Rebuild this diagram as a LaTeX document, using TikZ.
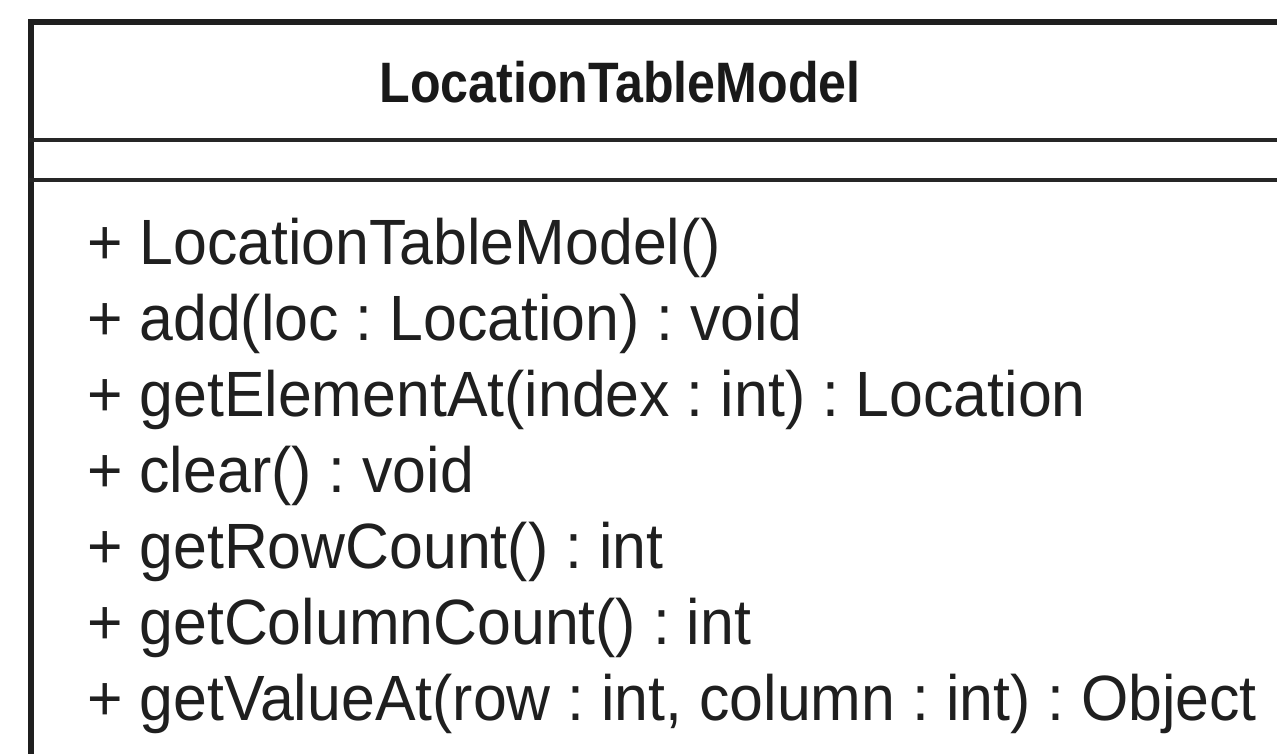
\documentclass[tikz,border=0pt]{standalone}
\usepackage{fontspec}
\setmainfont{Liberation Sans}
\frenchspacing
\begin{document}
\begin{tikzpicture}[x=1pt,y=-1pt,
  frame/.style={draw=black!88,line width=6pt},
  divider/.style={draw=black!85,line width=4pt},
  classname/.style={anchor=base,inner sep=0pt,text=black!90,
    font=\fontsize{57}{66}\selectfont\bfseries},
  member/.style={anchor=base west,inner sep=0pt,text=black!88,
    font=\fontsize{64}{76}\selectfont}]
  \useasboundingbox (0,0) rectangle (1277,754);
  % class frame: left edge and top edge (box continues past the page)
  \draw[frame] (31,754) -- (31,22) -- (1277,22);
  % compartment dividers
  \draw[divider] (29,140) -- (1277,140);
  \draw[divider] (29,180) -- (1277,180);
  % class name
  \node[classname] (title) at (620,103) {\scalebox{0.88}[1]{LocationTableModel}};
  % operations
  \node[member] (m1) at (87,264) {\scalebox{0.95}[1]{+ LocationTableModel()}};
  \node[member] (m2) at (87,340) {\scalebox{0.95}[1]{+ add(loc : Location) : void}};
  \node[member] (m3) at (87,416) {\scalebox{0.95}[1]{+ getElementAt(index : int) : Location}};
  \node[member] (m4) at (87,492) {\scalebox{0.95}[1]{+ clear() : void}};
  \node[member] (m5) at (87,568) {\scalebox{0.95}[1]{+ getRowCount() : int}};
  \node[member] (m6) at (87,644) {\scalebox{0.95}[1]{+ getColumnCount() : int}};
  \node[member] (m7) at (87,720) {\scalebox{0.95}[1]{+ getValueAt(row : int, column : int) : Object}};
\end{tikzpicture}
\end{document}
